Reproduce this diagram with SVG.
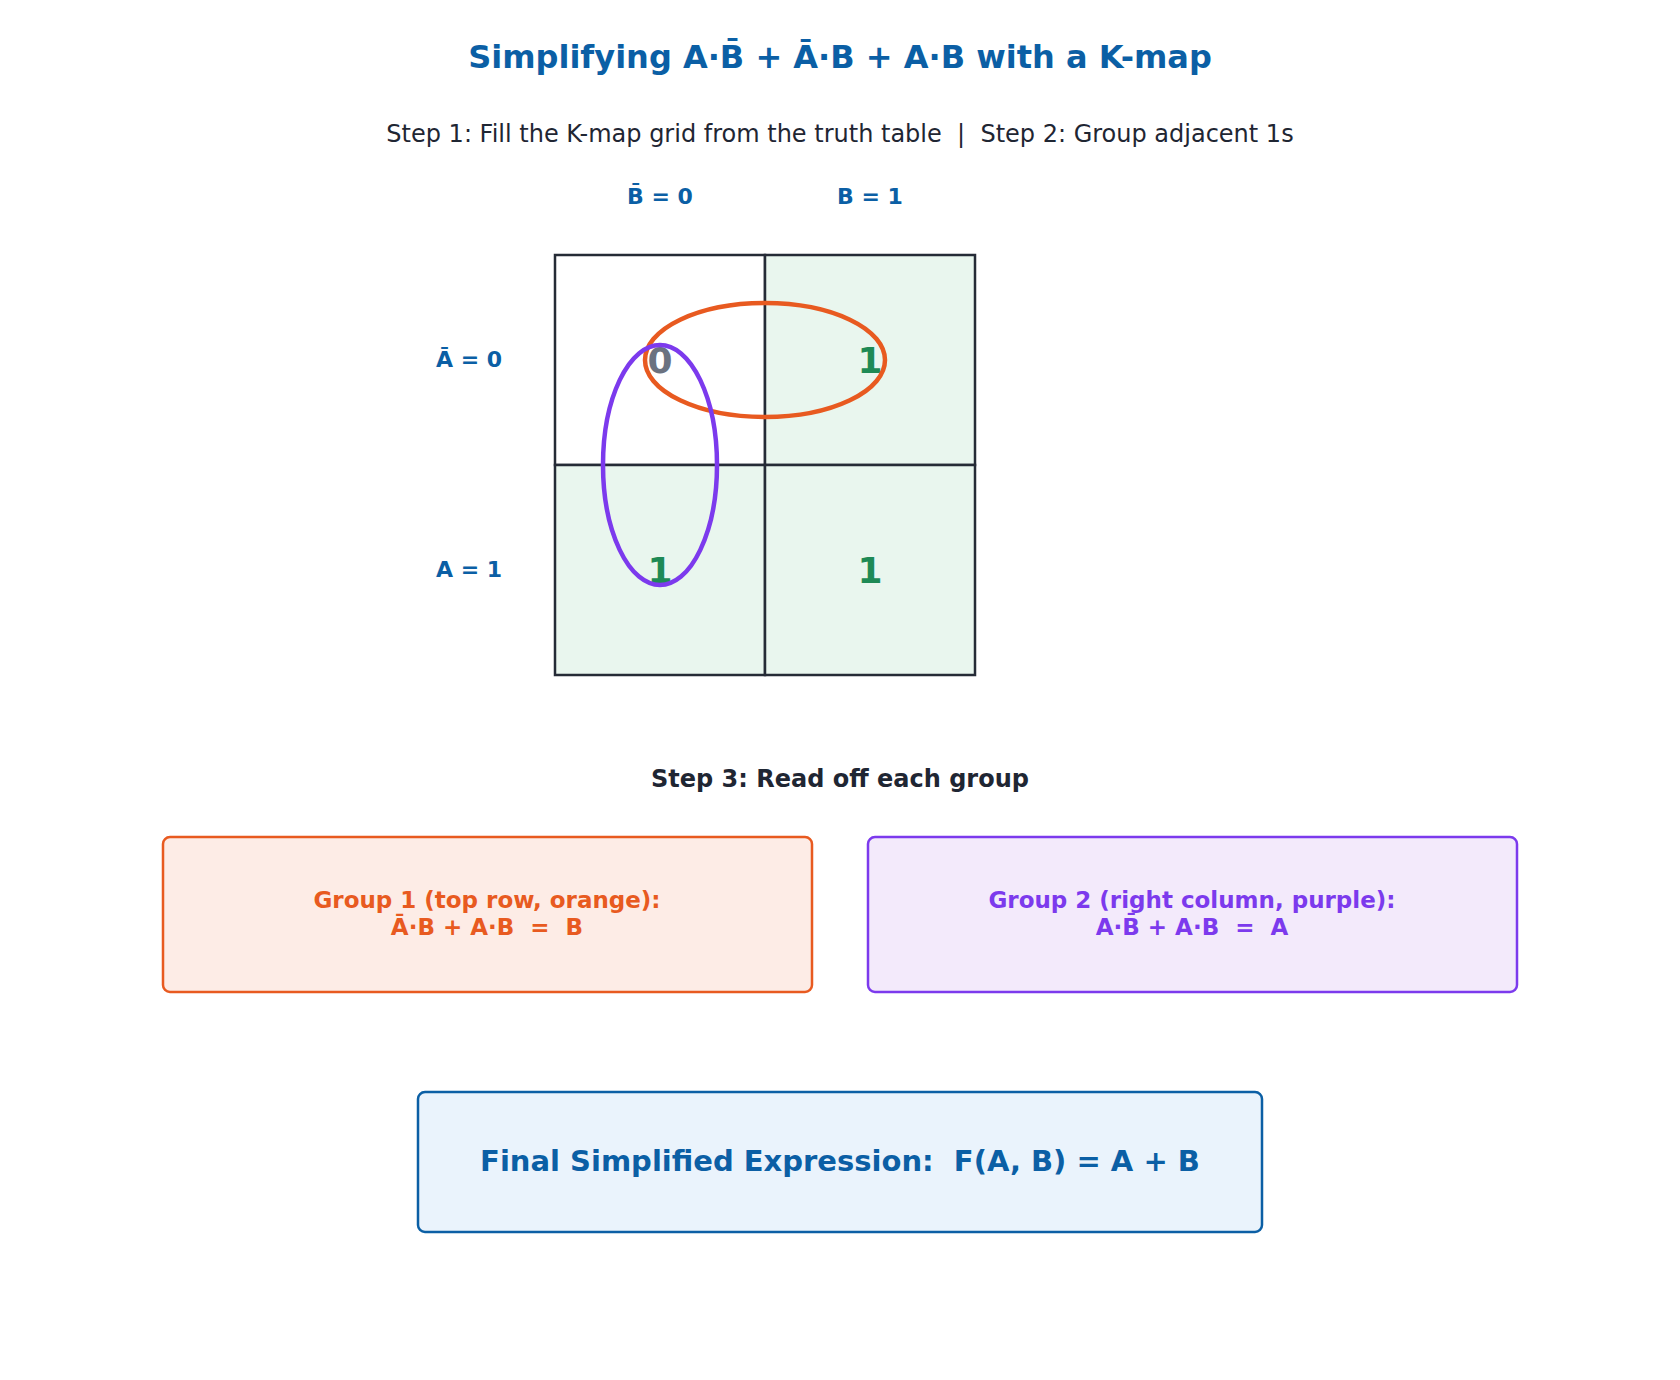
<svg xmlns="http://www.w3.org/2000/svg" width="1680" height="1380" viewBox="0 0 1680 1380">
<style>
text{font-family:"DejaVu Sans","Noto Sans",sans-serif;text-anchor:middle;dominant-baseline:central;white-space:pre}
.b{font-weight:bold}
.lbl{font-size:22px;font-weight:bold;fill:#0b5fa5}
.val{font-size:36px;font-weight:bold}
.one{fill:#1e8a55}
.zero{fill:#6b7280}
.cell{stroke:#252b36;stroke-width:2.5}
.grp{font-size:23px;font-weight:bold}
</style>
<rect width="1680" height="1380" fill="#ffffff"/>
<text id="title" x="840" y="57" class="b" font-size="32" fill="#0b5fa5">Simplifying A·B&#x304; + Ā·B + A·B with a K-map</text>
<text id="subtitle" x="840" y="134" font-size="24" fill="#1f2633" xml:space="preserve">Step 1: Fill the K-map grid from the truth table  |  Step 2: Group adjacent 1s</text>
<g id="col-labels">
<text x="660" y="196" class="lbl">B&#x304; = 0</text>
<text x="870" y="196" class="lbl">B = 1</text>
</g>
<g id="row-labels">
<text x="469" y="359" class="lbl">Ā = 0</text>
<text x="469" y="569" class="lbl">A = 1</text>
</g>
<g id="kmap">
<rect class="cell" x="555" y="255" width="210" height="210" fill="#ffffff"/>
<rect class="cell" x="765" y="255" width="210" height="210" fill="#e9f6ee"/>
<rect class="cell" x="555" y="465" width="210" height="210" fill="#e9f6ee"/>
<rect class="cell" x="765" y="465" width="210" height="210" fill="#e9f6ee"/>
<text x="660" y="360" class="val zero">0</text>
<text x="870" y="360" class="val one">1</text>
<text x="660" y="570" class="val one">1</text>
<text x="870" y="570" class="val one">1</text>
</g>
<g id="groups">
<ellipse id="group1-loop" cx="765" cy="360" rx="120" ry="57" fill="none" stroke="#e85a20" stroke-width="4.5"/>
<ellipse id="group2-loop" cx="660" cy="465" rx="57" ry="120" fill="none" stroke="#7c3aed" stroke-width="4.5"/>
</g>
<text id="step3" x="840" y="779" class="b" font-size="24" fill="#1f2633">Step 3: Read off each group</text>
<g id="group1">
<rect x="163" y="837" width="649" height="155" rx="7" fill="#fdece6" stroke="#e85a20" stroke-width="2.5"/>
<text x="487" y="900" class="grp" fill="#e85a20">Group 1 (top row, orange):</text>
<text x="487" y="927" class="grp" fill="#e85a20" xml:space="preserve">Ā·B + A·B  =  B</text>
</g>
<g id="group2">
<rect x="868" y="837" width="649" height="155" rx="7" fill="#f3eafb" stroke="#7c3aed" stroke-width="2.5"/>
<text x="1192" y="900" class="grp" fill="#7c3aed">Group 2 (right column, purple):</text>
<text x="1192" y="927" class="grp" fill="#7c3aed" xml:space="preserve">A·B&#x304; + A·B  =  A</text>
</g>
<g id="final">
<rect x="418" y="1092" width="844" height="140" rx="7" fill="#eaf3fc" stroke="#0b5fa5" stroke-width="2.5"/>
<text x="840" y="1161" class="b" font-size="29" fill="#0b5fa5" xml:space="preserve">Final Simplified Expression:  F(A, B) = A + B</text>
</g>
</svg>
